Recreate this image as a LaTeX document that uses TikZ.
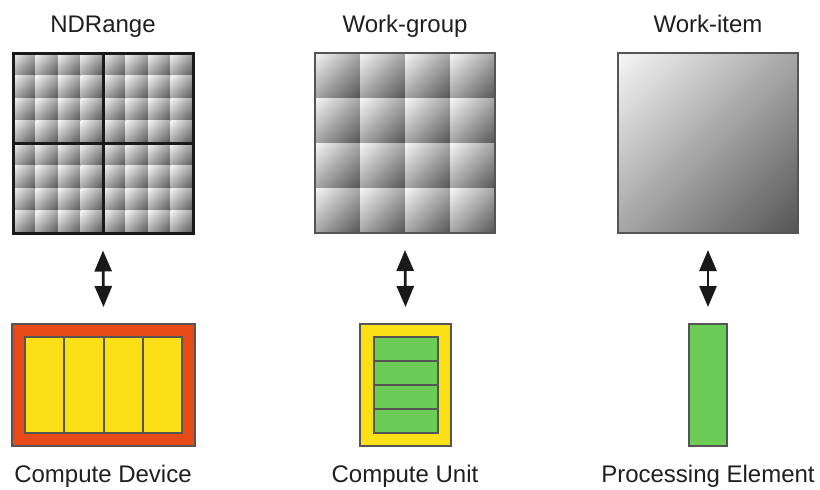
\documentclass[tikz,border=0pt]{standalone}
\usepackage{fontspec}
\setmainfont{Liberation Sans}
\usetikzlibrary{arrows.meta}

\definecolor{devorange}{HTML}{E84A17}
\definecolor{cuyellow}{HTML}{FBDF17}
\definecolor{pegreen}{HTML}{6BCD55}
\definecolor{edgegray}{HTML}{555555}
\definecolor{gridblack}{HTML}{1A1A1A}
\definecolor{celllight}{HTML}{F6F6F6}
\definecolor{celldark}{HTML}{555555}

% linear ramp spread over the whole diagonal of a cell when rotated by 45 degrees
\pgfdeclareverticalshading{cellramp}{100bp}{%
  color(0bp)=(celldark); color(14.6bp)=(celldark);
  color(85.4bp)=(celllight); color(100bp)=(celllight)}

\tikzset{
  caption/.style={anchor=base, inner sep=0pt, font=\fontsize{24}{28}\selectfont, text=black!88},
  cell/.style={shading=cellramp, shading angle=45},
  frame/.style={draw=edgegray, line width=2pt, inner sep=0pt, minimum size=180pt},
  ndframe/.style={draw=gridblack, line width=3pt, inner sep=0pt, minimum size=180pt},
  box/.style={draw=edgegray, line width=2pt, inner sep=0pt},
  part/.style={draw=edgegray, line width=2pt},
  biarrow/.style={{Triangle[length=21pt,width=17pt]}-{Triangle[length=21pt,width=17pt]},
    line width=2.8pt, draw=black!90, shorten >=0pt, shorten <=0pt},
}

\begin{document}
\begin{tikzpicture}[x=1pt, y=-1pt]
  \useasboundingbox (0,0) rectangle (820,490);

  % ---- top row: index space ----
  % NDRange: 8 x 8 shaded cells
  \foreach \i in {0,...,7}
    \foreach \j in {0,...,7}
      \shade[cell] ({13+22.5*\i},{53+22.5*\j}) rectangle ++(22.5,22.5);
  \node[ndframe] (ndr) at (103,143) {};
  \draw[draw=gridblack, line width=3pt] (ndr.north) -- (ndr.south);
  \draw[draw=gridblack, line width=3pt] (ndr.west) -- (ndr.east);

  % Work-group: 4 x 4 shaded cells
  \foreach \i in {0,...,3}
    \foreach \j in {0,...,3}
      \shade[cell] ({315+45*\i},{53+45*\j}) rectangle ++(45,45);
  \node[frame] (wg) at (405,143) {};

  % Work-item: one shaded square
  \shade[cell] (618,53) rectangle (798,233);
  \node[frame] (wi) at (708,143) {};

  \node[caption] (ndrlbl) at (103,32) {NDRange};
  \node[caption] (wglbl) at (405,32) {Work-group};
  \node[caption] (wilbl) at (708,32) {Work-item};

  % ---- bottom row: hardware ----
  % Compute device with four compute units
  \node[box, fill=devorange, minimum width=183pt, minimum height=122pt] (dev) at (103.5,385) {};
  \node[box, fill=cuyellow, minimum width=157pt, minimum height=96pt] (devin) at (103.5,385) {};
  \foreach \k in {1,2,3}
    \draw[part] ({25+39.25*\k},337) -- ({25+39.25*\k},433);

  % Compute unit with four processing elements
  \node[box, fill=cuyellow, minimum width=91pt, minimum height=122pt] (cu) at (405.5,385) {};
  \node[box, fill=pegreen, minimum width=64pt, minimum height=95.5pt] (cuin) at (405.5,385) {};
  \foreach \k in {1,2,3}
    \draw[part] (cuin.west |- 0,{337.25+23.875*\k}) -- (cuin.east |- 0,{337.25+23.875*\k});

  % Processing element
  \node[box, fill=pegreen, minimum width=38pt, minimum height=122pt] (pe) at (708,385) {};

  \node[caption] (devlbl) at (103,482) {Compute Device};
  \node[caption] (culbl) at (405,482) {Compute Unit};
  \node[caption] (pelbl) at (708,482) {Processing Element};

  % ---- mapping arrows ----
  \draw[biarrow] ([yshift=-16pt]ndr.south) -- ([yshift=16pt]dev.north);
  \draw[biarrow] ([yshift=-16pt]wg.south) -- ([yshift=16pt]cu.north);
  \draw[biarrow] ([yshift=-16pt]wi.south) -- ([yshift=16pt]pe.north);
\end{tikzpicture}
\end{document}
